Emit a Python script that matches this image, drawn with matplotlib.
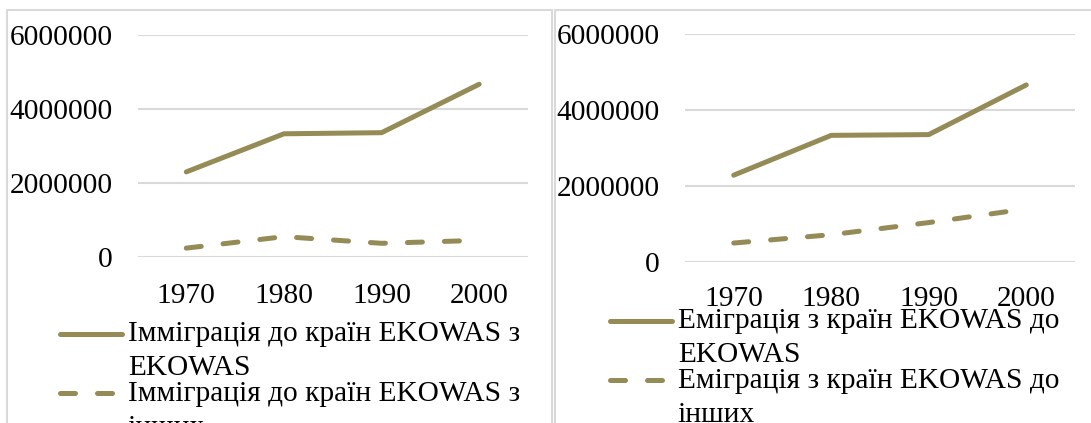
import matplotlib.pyplot as plt
from matplotlib.patches import Rectangle
from matplotlib.legend_handler import HandlerLine2D

plt.rcParams['font.family'] = ['Liberation Serif', 'DejaVu Serif']

years = ['1970', '1980', '1990', '2000']

# ліва панель - імміграція
imm_ecowas = [2300000, 3330000, 3360000, 4670000]
imm_other = [240000, 550000, 370000, 450000]
imm_labels = ['Імміграція до країн EKOWAS з\nEKOWAS', 'Імміграція до країн EKOWAS з\nінших']

# права панель - еміграція
emi_ecowas = [2290000, 3340000, 3360000, 4670000]
emi_other = [500000, 720000, 1040000, 1400000]
emi_labels = ['Еміграція з країн EKOWAS до\nEKOWAS', 'Еміграція з країн EKOWAS до\nінших']

col = '#958B56'
grid = '#D9D9D9'
fs = 21.2
W, H = 1091, 423


# маркер легенди на рівні першого рядка підпису
class FirstLine(HandlerLine2D):
    def create_artists(self, legend, orig_handle, xdescent, ydescent, width, height, fontsize, trans):
        return super().create_artists(legend, orig_handle, xdescent, ydescent - 25,
                                      width, height, fontsize, trans)


fig = plt.figure(figsize=(W / 100, H / 100), dpi=100)

# рамки панелей
fig.patches.append(Rectangle((7 / W, -0.1), (552 - 7) / W, (H - 10) / H + 0.1,
                             transform=fig.transFigure, fill=False, ec=grid, lw=1.5))
fig.patches.append(Rectangle((555 / W, -0.1), 0.5, (H - 10) / H + 0.1,
                             transform=fig.transFigure, fill=False, ec=grid, lw=1.5))


def panel(x0, x1, ytop, ybot, s1, s2, labels, xpad, leg):
    ax = fig.add_axes([x0 / W, (H - ybot) / H, (x1 - x0) / W, (ybot - ytop) / H])
    x = range(len(years))
    ax.plot(x, s1, color=col, lw=3.6, solid_capstyle='round', label=labels[0])
    ax.plot(x, s2, color=col, lw=3.6, dashes=(3, 4.4), dash_capstyle='round', label=labels[1])
    ax.set_xlim(-0.5, 3.5)
    ax.set_ylim(0, 6000000)
    ax.set_yticks([0, 2000000, 4000000, 6000000])
    ax.set_yticklabels(['0', '2000000', '4000000', '6000000'])
    ax.set_xticks(list(x))
    ax.set_xticklabels(years)
    ax.tick_params(axis='y', length=0, pad=18, labelsize=fs)
    ax.tick_params(axis='x', length=0, pad=xpad, labelsize=fs)
    ax.grid(axis='y', color=grid, lw=1.5)
    ax.set_axisbelow(True)
    for s in ax.spines.values():
        s.set_visible(False)
    lg = ax.legend(loc='upper left', bbox_to_anchor=(leg[0] / W, (H - leg[1]) / H),
                   bbox_transform=fig.transFigure, frameon=False, fontsize=fs,
                   handlelength=2.1, handletextpad=0.2, borderpad=0, borderaxespad=0,
                   labelspacing=-0.03, handler_map={plt.Line2D: FirstLine()})
    for t in lg.get_texts():
        t.set_linespacing(1.42)
    return ax


panel(137.5, 528, 35, 257, imm_ecowas, imm_other, imm_labels, 18.4, (60, 321))
panel(685, 1075, 34.5, 262, emi_ecowas, emi_other, emi_labels, 17, (610, 308))

fig.savefig('out.png', dpi=100)
